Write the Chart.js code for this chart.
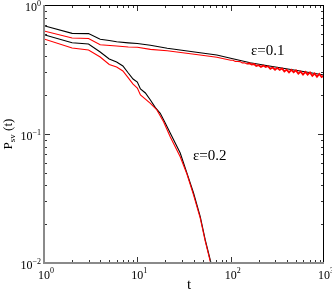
<!DOCTYPE html>
<html><head><meta charset="utf-8">
<script src="https://cdn.jsdelivr.net/npm/chart.js@4/dist/chart.umd.min.js"></script>
<style>html,body{margin:0;padding:0;background:#fff;}#wrap{width:332px;height:291px;}</style>
</head><body><div id="wrap"><canvas id="c" width="332" height="291"></canvas></div>
<script>
// eps = 0.1, black series
const tBlack01 = [1, 2, 3, 4, 5, 6, 8, 10, 13.8, 20.9, 30, 47, 71, 100, 162, 250, 365, 600, 1000];
const pBlack01 = [0.691, 0.603, 0.600, 0.542, 0.530, 0.519, 0.509, 0.503, 0.487, 0.462, 0.446, 0.427, 0.410, 0.387, 0.357, 0.338, 0.323, 0.305, 0.287];
// eps = 0.1, red series (noisy at long times)
const tRed01 = [1, 2, 3, 4, 6, 8, 10, 13.8, 20.9, 47, 71,
  100, 106, 112, 119, 126, 133, 141, 150, 158, 168, 178, 188, 200, 211, 224, 237, 251, 266, 282, 299,
  316, 335, 355, 376, 398, 422, 447, 473, 501, 531, 562, 596, 631, 668, 708, 750, 794, 841, 891, 944, 1000];
const pRed01 = [0.629, 0.555, 0.550, 0.492, 0.481, 0.472, 0.470, 0.453, 0.442, 0.410, 0.393,
  0.3727, 0.3727, 0.3655, 0.3648, 0.3641, 0.3557, 0.3570, 0.3488, 0.3532, 0.3451, 0.3488, 0.3372, 0.3414, 0.3312, 0.3390, 0.3306, 0.3354, 0.3202, 0.3277, 0.3151,
  0.3254, 0.3140, 0.3219, 0.3057, 0.3156, 0.3008, 0.3140, 0.3008, 0.3112, 0.2934, 0.3045, 0.2887, 0.3030, 0.2887, 0.3002, 0.2821, 0.2944, 0.2775, 0.2923, 0.2766, 0.2841];
// eps = 0.2, black series
const tBlack02 = [1, 2, 3, 4, 5, 6, 7, 8, 9, 10, 10.8, 12.2, 13.8, 15.6, 17.6, 19.9, 22.5, 28.8, 34, 40, 47.2, 53.4, 60.4, 65];
const pBlack02 = [0.589, 0.510, 0.498, 0.432, 0.3815, 0.361, 0.337, 0.297, 0.267, 0.253, 0.2234, 0.208, 0.1835, 0.160, 0.1447, 0.1217, 0.1018, 0.0712, 0.0498, 0.0349, 0.0229, 0.0151, 0.01055, 0.0085];
// eps = 0.2, red series
const tRed02 = [1, 2, 3, 4, 5, 6, 7, 8, 9, 10, 10.8, 13.8, 16.2, 19.1, 22.5, 28.8, 34, 40, 47.2, 53.4, 60.4, 65];
const pRed02 = [0.545, 0.464, 0.448, 0.395, 0.346, 0.331, 0.308, 0.272, 0.244, 0.227, 0.2006, 0.173, 0.1535, 0.1245, 0.0953, 0.0667, 0.0490, 0.0337, 0.0223, 0.0148, 0.01036, 0.0083];

const xDecades = [0, 1, 2, 3];
const yDecades = [0, -1, -2];
const curveLabels = ['ε=0.1', 'ε=0.2'];
const xTitle = 't';

function pts(t, p) { return t.map((v, i) => ({x: v, y: p[i]})); }

const SERIF = '"Liberation Serif", "DejaVu Serif", serif';

const framePlugin = {
  id: 'frame',
  afterDraw(chart) {
    const ctx = chart.ctx, a = chart.chartArea;
    const xs = chart.scales.x, ys = chart.scales.y;
    ctx.save();
    // ticks
    ctx.strokeStyle = '#333';
    ctx.lineWidth = 1;
    for (let k = 0; k <= 2; k++) {
      for (let m = 1; m <= 9; m++) {
        const v = m * Math.pow(10, k);
        const px = Math.round(xs.getPixelForValue(v)) + 0.5;
        const len = m === 1 ? 6 : 3;
        ctx.beginPath();
        ctx.moveTo(px, a.bottom); ctx.lineTo(px, a.bottom - len);
        ctx.moveTo(px, a.top); ctx.lineTo(px, a.top + len);
        ctx.stroke();
      }
    }
    for (let k = -2; k <= -1; k++) {
      for (let m = 1; m <= 9; m++) {
        const v = m * Math.pow(10, k);
        const py = Math.round(ys.getPixelForValue(v)) + 0.5;
        const len = m === 1 ? 6 : 3;
        ctx.beginPath();
        ctx.moveTo(a.left, py); ctx.lineTo(a.left + len, py);
        ctx.moveTo(a.right, py); ctx.lineTo(a.right - len, py);
        ctx.stroke();
      }
    }
    // borders
    ctx.strokeStyle = '#000';
    ctx.lineWidth = 1;
    ctx.beginPath();
    ctx.moveTo(a.left, a.top + 0.5); ctx.lineTo(a.right, a.top + 0.5);
    ctx.moveTo(a.right - 0.5, a.top); ctx.lineTo(a.right - 0.5, a.bottom);
    ctx.stroke();
    ctx.strokeStyle = '#8a8a8a';
    ctx.lineWidth = 2;
    ctx.beginPath();
    ctx.moveTo(a.left, a.top); ctx.lineTo(a.left, a.bottom + 1);
    ctx.moveTo(a.left - 1, a.bottom); ctx.lineTo(a.right, a.bottom);
    ctx.stroke();

    // tick labels
    ctx.fillStyle = '#000';
    ctx.textBaseline = 'alphabetic';
    const big = '12px ' + SERIF, small = '8px ' + SERIF;
    xDecades.forEach(e => {
      const px = xs.getPixelForValue(Math.pow(10, e));
      ctx.font = big; ctx.textAlign = 'center';
      ctx.fillText('10', px, a.bottom + 16);
      const w = ctx.measureText('10').width;
      ctx.font = small; ctx.textAlign = 'left';
      ctx.fillText(String(e), px + w / 2, a.bottom + 10);
    });
    yDecades.forEach(e => {
      const py = ys.getPixelForValue(Math.pow(10, e));
      const expTxt = e === 0 ? '0' : '\u2212' + String(-e);
      ctx.font = small;
      const ew = ctx.measureText(expTxt).width;
      const right = a.left - 3;
      ctx.textAlign = 'left';
      ctx.fillText(expTxt, right - ew, py + 1);
      ctx.font = big; ctx.textAlign = 'right';
      ctx.fillText('10', right - ew, py + 6);
    });

    // axis titles
    ctx.font = '15px ' + SERIF;
    ctx.textAlign = 'center';
    ctx.fillText(xTitle, (a.left + a.right) / 2 + 5, 289);

    ctx.save();
    ctx.translate(12, 134);
    ctx.rotate(-Math.PI / 2);
    const f1 = '13px ' + SERIF, f2 = '9px ' + SERIF;
    ctx.font = f1; const wP = ctx.measureText('P').width;
    ctx.font = f2; const wS = ctx.measureText('sv').width;
    ctx.font = f1; const wT = ctx.measureText(' (t)').width;
    let x0 = -(wP + wS + wT) / 2;
    ctx.textAlign = 'left';
    ctx.font = f1; ctx.fillText('P', x0, 0);
    ctx.font = f2; ctx.fillText('sv', x0 + wP, 3);
    ctx.font = f1; ctx.fillText(' (t)', x0 + wP + wS, 0);
    ctx.restore();

    // curve annotations
    ctx.font = '15px ' + SERIF;
    ctx.textAlign = 'left';
    ctx.fillText(curveLabels[0], 251, 55);
    ctx.fillText(curveLabels[1], 193, 160);
    ctx.restore();
  }
};

new Chart(document.getElementById('c'), {
  type: 'line',
  data: {
    datasets: [
      {data: pts(tBlack01, pBlack01), borderColor: '#000', order: 1},
      {data: pts(tRed01, pRed01), borderColor: '#ff0000', order: 0,
       segment: {borderWidth: c => (c.p0.parsed.x >= 150 ? 1.8 : 1.1)}},
      {data: pts(tBlack02, pBlack02), borderColor: '#000', order: 1},
      {data: pts(tRed02, pRed02), borderColor: '#ff0000', order: 0}
    ]
  },
  options: {
    responsive: false,
    animation: false,
    devicePixelRatio: 1,
    layout: {padding: {left: 0, right: 8, top: 5, bottom: 0}},
    elements: {
      line: {borderWidth: 1.1, tension: 0, fill: false},
      point: {radius: 0, hoverRadius: 0}
    },
    plugins: {legend: {display: false}, tooltip: {enabled: false}},
    scales: {
      x: {
        type: 'logarithmic', min: 1, max: 1000,
        ticks: {display: false}, grid: {display: false}, border: {display: false},
        afterFit: s => { s.height = 28; }
      },
      y: {
        type: 'logarithmic', min: 0.01, max: 1,
        ticks: {display: false}, grid: {display: false}, border: {display: false},
        afterFit: s => { s.width = 44; }
      }
    }
  },
  plugins: [framePlugin]
});
</script>
</body></html>
